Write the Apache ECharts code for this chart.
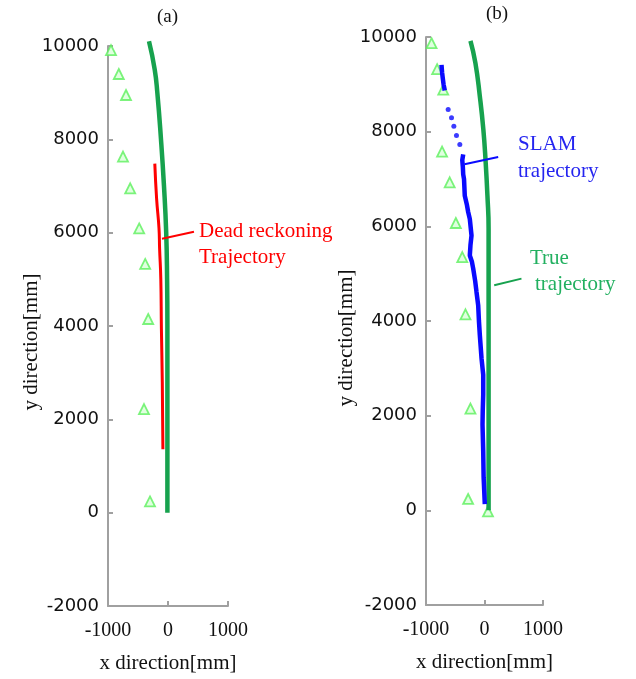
<!DOCTYPE html>
<html><head><meta charset="utf-8">
<script src="https://cdn.jsdelivr.net/npm/echarts@6/dist/echarts.min.js"></script>
<style>html,body{margin:0;padding:0;background:#fff}#c{width:636px;height:679px}</style>
</head><body><div id="c"></div>
<script>
// ---------- data (mm) ----------
// Panel (a)
const trueA_x = [-317, -222, -178, -117, -67, -30, -15, -10, -10];
const trueA_y = [10100, 9500, 9000, 8000, 7000, 6000, 5000, 4000, 0];
const deadA_x = [-220, -190, -150, -140, -120, -110, -95, -85];
const deadA_y = [7480, 6730, 6090, 5660, 5010, 3940, 2800, 1360];
const markA_x = [-950, -820, -700, -750, -630, -480, -380, -330, -400, -300];
const markA_y = [9910, 9400, 8950, 7630, 6950, 6090, 5330, 4150, 2220, 240];
// Panel (b)
const trueB_x = [-240, -155, -80, -20, 20, 50, 70, 70];
const trueB_y = [9920, 9450, 8750, 8050, 7350, 6650, 5950, 0];
const markB_x = [-905, -810, -705, -725, -595, -490, -380, -325, -240, -280, 60];
const markB_y = [9870, 9320, 8890, 7580, 6930, 6070, 5350, 4140, 2150, 240, -20];
const slamTop_x = [-735, -725, -712, -700, -690, -680];
const slamTop_y = [9410, 9250, 9120, 9000, 8940, 8870];
const slamDots_x = [-621, -564, -524, -479, -422];
const slamDots_y = [8466, 8292, 8116, 7920, 7731];
const slamBot_x = [-364, -380, -370, -364, -350, -337, -300, -279, -251, -222, -240, -251, -215, -193, -160, -137, -108, -95, -80, -51, -22, -22, -30, -34, -22, -15, 5];
const slamBot_y = [7521, 7400, 7250, 7100, 6996, 6645, 6450, 6303, 6155, 5805, 5600, 5384, 5250, 5105, 4850, 4616, 4334, 4000, 3704, 3214, 2863, 2443, 2100, 1813, 1254, 700, 132];
// tick values
const yMin = -2000, yMax = 10000, yStep = 2000;
const xMin = -1000, xMax = 1000, xStep = 1000;

const zip = (xs, ys) => xs.map((x, i) => [x, ys[i]]);

const C_GREEN = '#17a24e', C_RED = '#ff0000', C_BLUE = '#0a0aff', C_MARK = '#5cf05c';
const AX = '#a0a0a0';
const SERIF = '"Liberation Serif","Times New Roman",serif';
const SANS = '"DejaVu Sans",Verdana,sans-serif';

function xAxis(gi) {
  return {
    gridIndex: gi, type: 'value', min: xMin, max: xMax, interval: xStep,
    name: 'x direction[mm]', nameLocation: 'middle', nameGap: 47,
    nameTextStyle: { fontFamily: SERIF, fontSize: 21, color: '#111' },
    axisLine: { show: true, onZero: false, lineStyle: { color: AX, width: 2 } },
    axisTick: { show: true, inside: true, length: 5, lineStyle: { color: AX, width: 2 } },
    axisLabel: { fontFamily: SERIF, fontSize: 20, color: '#111', margin: 15, formatter: v => String(v) },
    splitLine: { show: false }
  };
}
function yAxis(gi) {
  return {
    gridIndex: gi, type: 'value', min: yMin, max: yMax, interval: yStep,
    axisLine: { show: true, onZero: false, lineStyle: { color: AX, width: 2 } },
    axisTick: { show: true, inside: true, length: 5, lineStyle: { color: AX, width: 2 } },
    axisLabel: { fontFamily: SANS, fontSize: 18, color: '#111', margin: 9, formatter: v => String(v) },
    splitLine: { show: false }
  };
}
function line(gi, data, color, width, z) {
  return { type: 'line', xAxisIndex: gi, yAxisIndex: gi, data, showSymbol: false, symbol: 'none',
    smooth: true, clip: false, z: z || 2, lineStyle: { color, width }, animation: false };
}
function marks(gi, data) {
  return { type: 'scatter', xAxisIndex: gi, yAxisIndex: gi, data, symbol: 'triangle', symbolSize: 10, z: 1,
    itemStyle: { color: '#d8ffd8', borderColor: C_MARK, borderWidth: 1.8 }, animation: false };
}
function leader(gi, data, color) {
  return { type: 'line', xAxisIndex: gi, yAxisIndex: gi, data, symbol: 'none', clip: false, z: 5,
    lineStyle: { color, width: 2 }, animation: false };
}

const chart = echarts.init(document.getElementById('c'), null, { renderer: 'canvas' });
chart.setOption({
  animation: false,
  grid: [
    { left: 108, top: 46, width: 120, height: 560 },
    { left: 426, top: 37, width: 117, height: 568 }
  ],
  xAxis: [xAxis(0), xAxis(1)],
  yAxis: [yAxis(0), yAxis(1)],
  series: [
    marks(0, zip(markA_x, markA_y)),
    line(0, zip(trueA_x, trueA_y), C_GREEN, 4.5, 2),
    line(0, zip(deadA_x, deadA_y), C_RED, 3, 3),
    leader(0, [[-100, 5870], [433, 6020]], C_RED),
    marks(1, zip(markB_x, markB_y)),
    line(1, zip(trueB_x, trueB_y), C_GREEN, 4.5, 2),
    Object.assign(line(1, zip(slamTop_x, slamTop_y), C_BLUE, 4.5, 3), { smooth: false }),
    { type: 'scatter', xAxisIndex: 1, yAxisIndex: 1, data: zip(slamDots_x, slamDots_y), symbol: 'circle', symbolSize: 5,
      itemStyle: { color: C_BLUE }, z: 3, animation: false },
    Object.assign(line(1, zip(slamBot_x, slamBot_y), C_BLUE, 4.5, 3), { smooth: false }),
    leader(1, [[-342, 7310], [234, 7465]], C_BLUE),
    leader(1, [[166, 4755], [632, 4895]], C_GREEN)
  ],
  graphic: [
    { type: 'text', left: 157, top: 8, style: { text: '(a)', font: '19px ' + SERIF, fill: '#111' } },
    { type: 'text', left: 486, top: 5, style: { text: '(b)', font: '19px ' + SERIF, fill: '#111' } },
    { type: 'text', x: 31, y: 342, rotation: Math.PI / 2, style: { text: 'y direction[mm]', font: '21px ' + SERIF, fill: '#111', align: 'center', verticalAlign: 'middle' } },
    { type: 'text', x: 346, y: 338, rotation: Math.PI / 2, style: { text: 'y direction[mm]', font: '21px ' + SERIF, fill: '#111', align: 'center', verticalAlign: 'middle' } },
    { type: 'text', left: 199, top: 218, style: { text: 'Dead reckoning\nTrajectory', font: '21px ' + SERIF, fill: C_RED, lineHeight: 26 } },
    { type: 'text', left: 518, top: 131, style: { text: 'SLAM\ntrajectory', font: '21px ' + SERIF, fill: '#2525f0', lineHeight: 27 } },
    { type: 'text', left: 530, top: 248, style: { text: 'True', font: '21px ' + SERIF, fill: '#22b060' } },
    { type: 'text', left: 535, top: 274, style: { text: 'trajectory', font: '21px ' + SERIF, fill: '#22b060' } }
  ]
});
</script></body></html>
